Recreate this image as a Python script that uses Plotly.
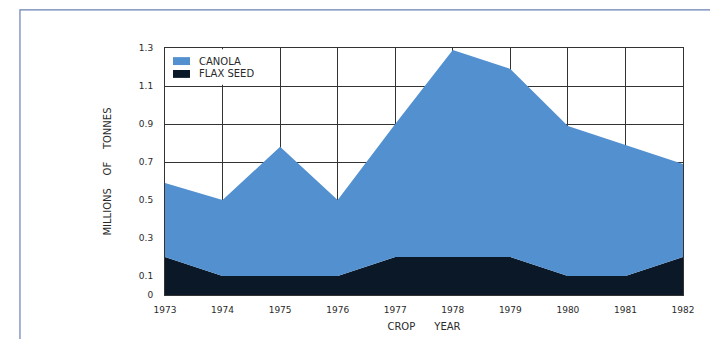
import plotly.graph_objects as go

# crop years and production (millions of tonnes)
years = [1973, 1974, 1975, 1976, 1977, 1978, 1979, 1980, 1981, 1982]
flax_seed = [0.20, 0.10, 0.10, 0.10, 0.20, 0.20, 0.20, 0.10, 0.10, 0.20]
# canola stacked on top of flax seed
canola = [0.39, 0.40, 0.68, 0.40, 0.70, 1.09, 0.99, 0.79, 0.69, 0.49]

y_ticks = [0, 0.1, 0.3, 0.5, 0.7, 0.9, 1.1, 1.3]
y_tick_text = ["0", "0.1", "0.3", "0.5", "0.7", "0.9", "1.1", "1.3"]

font = "DejaVu Sans"
ink = "#2a2a2a"
canola_col = "#5290d0"
flax_col = "#0a1828"

fig = go.Figure()
fig.add_trace(go.Scatter(
    x=years, y=flax_seed, name="FLAX SEED", stackgroup="one",
    mode="none", fillcolor=flax_col,
))
fig.add_trace(go.Scatter(
    x=years, y=canola, name="CANOLA", stackgroup="one",
    mode="none", fillcolor=canola_col,
))

# hand-made legend so the swatches and row spacing stay compact
legend_items = [("CANOLA", canola_col, 0.947), ("FLAX SEED", flax_col, 0.895)]
shapes = [
    # outer frame of the page
    dict(type="rect", xref="paper", yref="paper",
         x0=-0.28, x1=1.3, y0=-0.4, y1=1.154,
         line=dict(color="#6a80b4", width=1.2), layer="below"),
    # white box behind the legend (hides the gridlines there)
    dict(type="rect", xref="x", yref="y",
         x0=1973.03, x1=1974.97, y0=1.106, y1=1.294,
         fillcolor="white", line=dict(width=0), layer="above"),
]
annotations = []
for label, col, yc in legend_items:
    shapes.append(dict(type="rect", xref="paper", yref="paper",
                       x0=0.0154, x1=0.0483, y0=yc - 0.016, y1=yc + 0.016,
                       fillcolor=col, line=dict(width=0), layer="above"))
    annotations.append(dict(text=label, xref="paper", yref="paper",
                            x=0.0618, y=yc, xanchor="left", yanchor="middle",
                            showarrow=False, font=dict(size=10, color=ink)))

fig.update_layout(
    width=718, height=339,
    margin=dict(l=157, r=43, t=40, b=52),
    paper_bgcolor="white", plot_bgcolor="white",
    font=dict(family=font, size=9, color=ink),
    showlegend=False,
    xaxis=dict(
        range=[1973, 1982], tickvals=years, ticktext=[str(y) for y in years],
        showgrid=True, gridcolor="#333333", gridwidth=1,
        showline=True, linecolor="#333333", linewidth=1, mirror=True,
        ticks="", ticklabelstandoff=6, zeroline=False,
        title=dict(text="CROP\u00a0\u00a0\u00a0\u00a0\u00a0\u00a0YEAR", standoff=9,
                   font=dict(size=10, color=ink)),
    ),
    yaxis=dict(
        range=[0, 1.3], tickvals=y_ticks, ticktext=y_tick_text,
        showgrid=True, gridcolor="#333333", gridwidth=1,
        showline=True, linecolor="#333333", linewidth=1, mirror=True,
        ticks="", ticklabelstandoff=9, zeroline=False,
        title=dict(text="MILLIONS\u00a0\u00a0\u00a0 OF\u00a0\u00a0\u00a0 TONNES", standoff=25,
                   font=dict(size=10, color=ink)),
    ),
    shapes=shapes,
    annotations=annotations,
)

fig.write_html("out.html")
